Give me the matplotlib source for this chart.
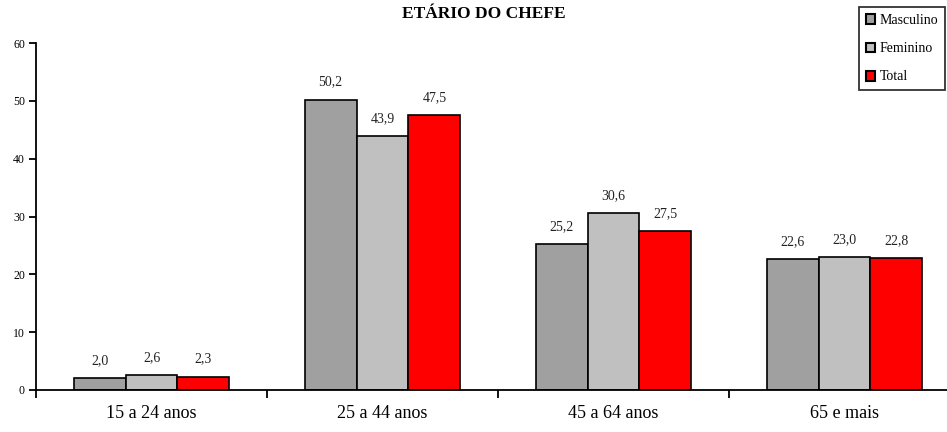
import matplotlib
matplotlib.use("Agg")
import matplotlib.pyplot as plt
import numpy as np
from matplotlib.patches import Patch

categories = ["15 a 24 anos", "25 a 44 anos", "45 a 64 anos", "65 e mais"]
series_names = ["Masculino", "Feminino", "Total"]
masculino = [2.0, 50.2, 25.2, 22.6]
feminino = [2.6, 43.9, 30.6, 23.0]
total = [2.3, 47.5, 27.5, 22.8]
y_ticks = [0, 10, 20, 30, 40, 50, 60]
colors = ["#a0a0a0", "#c0c0c0", "#ff0000"]

plt.rcParams["font.family"] = ["Liberation Serif", "DejaVu Serif"]

fig = plt.figure(figsize=(9.47, 4.32), dpi=100)
ax = fig.add_axes([36 / 947, 42 / 432, 924 / 947, 347 / 432])

x = np.arange(len(categories)) + 0.5
width = 0.225
for i, (vals, col) in enumerate(zip([masculino, feminino, total], colors)):
    pos = x + (i - 1) * width
    bars = ax.bar(pos, vals, width, color=col, edgecolor="black", linewidth=1.2)
    for b, v in zip(bars, vals):
        ax.annotate(f"{v:.1f}".replace(".", ","),
                    (b.get_x() + b.get_width() / 2, v),
                    xytext=(0, 8), textcoords="offset points",
                    ha="center", va="bottom", fontsize=10, color="#222222")

ax.set_xlim(0, 4)
ax.set_ylim(0, 60)
ax.set_yticks(y_ticks)
ax.set_yticklabels([str(t) for t in y_ticks], fontsize=8.5)
ax.set_xticks(np.arange(0, 5))
ax.set_xticklabels([])
ax.set_xticks(x, minor=True)
ax.set_xticklabels(categories, minor=True, fontsize=13)
ax.tick_params(axis="x", which="minor", length=0, pad=11)
ax.tick_params(axis="x", which="major", length=6, width=1.3, direction="out")
ax.tick_params(axis="y", length=5, width=1.3, direction="out", pad=3)
for s in ["top", "right"]:
    ax.spines[s].set_visible(False)
for s in ["left", "bottom"]:
    ax.spines[s].set_linewidth(1.3)

fig.text(484 / 947, 1 - 14 / 432, "ETÁRIO DO CHEFE", ha="center", va="center",
         fontsize=12.5, fontweight="bold")

handles = [Patch(facecolor=c, edgecolor="black", linewidth=1.5) for c in colors]
leg = fig.legend(handles, series_names, loc="upper right",
                 bbox_to_anchor=(945 / 947, 1 - 7 / 432), fontsize=10,
                 handlelength=0.7, handleheight=0.7, handletextpad=0.3,
                 labelspacing=1.1, borderpad=0.5, frameon=True, fancybox=False,
                 borderaxespad=0)
leg.get_frame().set_edgecolor("black")
leg.get_frame().set_linewidth(1.3)

fig.savefig("out.png", dpi=100)
